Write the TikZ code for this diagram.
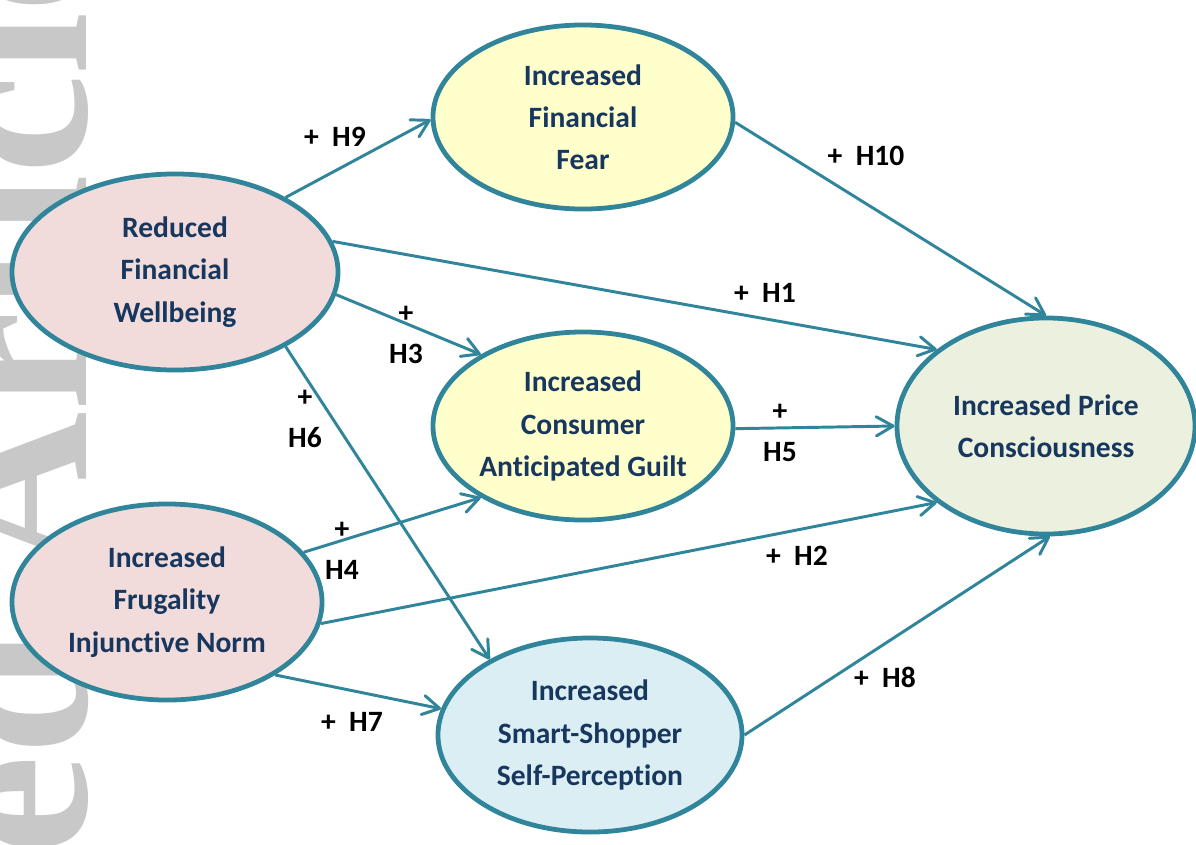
\documentclass[tikz,border=0pt]{standalone}
\usepackage{fontspec}
\setmainfont{Carlito}[Ligatures=NoCommon]
\newfontfamily\markfont{Liberation Serif}
\usetikzlibrary{arrows.meta,shapes.geometric}
\definecolor{TealLine}{RGB}{49,133,155}
\definecolor{NavyText}{RGB}{23,55,94}
\definecolor{PinkFill}{RGB}{242,220,219}
\definecolor{YellowFill}{RGB}{255,255,204}
\definecolor{SageFill}{RGB}{235,241,222}
\definecolor{IceFill}{RGB}{219,238,244}
\definecolor{MarkGrey}{RGB}{200,200,200}

\tikzset{
  construct/.style={ellipse, draw=TealLine, line width=3.4pt, inner sep=0pt,
    text=NavyText, font=\bfseries\fontsize{21}{30}\selectfont, align=center},
  link/.style={-{Straight Barb[length=4.2mm,width=4.8mm,round]}, TealLine,
    line width=2.1pt},
  hyp/.style={font=\bfseries\fontsize{21}{29}\selectfont, align=center}
}

\begin{document}
\begin{tikzpicture}[x=0.025cm,y=-0.025cm]
  \useasboundingbox (0,0) rectangle (1196,844);
  % grey mark along the left edge
  \begin{scope}
    \clip (0,0) rectangle (1196,844);
    \node[rotate=90, anchor=base west, inner sep=0pt, text=MarkGrey,
          font=\markfont\bfseries\fontsize{160}{160}\selectfont] (mark)
          at (86,1518) {Accepted Article};
  \end{scope}

  % constructs
  \node[construct, fill=PinkFill, minimum width=8.15cm, minimum height=4.9cm]
    (rfw) at (175,272) {Reduced\\Financial\\Wellbeing};
  \node[construct, fill=YellowFill, minimum width=7.5cm, minimum height=4.6cm]
    (iff) at (583,117) {Increased\\Financial\\Fear};
  \node[construct, fill=YellowFill, minimum width=7.5cm, minimum height=4.7cm]
    (icag) at (583,426) {Increased\\Consumer\\Anticipated Guilt};
  \node[construct, fill=SageFill, minimum width=7.45cm, minimum height=5.4cm]
    (ipc) at (1046,426) {Increased Price\\Consciousness};
  \node[construct, fill=PinkFill, minimum width=7.75cm, minimum height=4.9cm]
    (ifin) at (167,602) {Increased\\Frugality\\Injunctive Norm};
  \node[construct, fill=IceFill, minimum width=7.6cm, minimum height=4.85cm]
    (isssp) at (590,735) {Increased\\Smart-Shopper\\Self-Perception};

  % hypothesised paths
  \draw[link] (rfw.34) -- (iff.181);
  \draw[link] (iff.-2) -- (ipc.90);
  \draw[link] (rfw.11.5) -- (ipc.145.8);
  \draw[link] (rfw.-8.7) -- (icag.145);
  \draw[link] (rfw.-34.4) -- (isssp.143);
  \draw[link] (icag.-1) -- (ipc.180);
  \draw[link] (ifin.20) -- (icag.215.4);
  \draw[link] (ifin.-8.5) -- (ipc.215);
  \draw[link] (ifin.-34) -- (isssp.170);
  \draw[link] (isssp.0) -- (ipc.-88);

  % hypothesis labels
  \node[hyp] (h9) at (335,137) {+~~H9};
  \node[hyp] (h10) at (866,156) {+~~H10};
  \node[hyp] (h1) at (765,293) {+~~H1};
  \node[hyp] (h3) at (406,335) {+\\H3};
  \node[hyp] (h6) at (305,419) {+\\H6};
  \node[hyp] (h5) at (780,433) {+\\H5};
  \node[hyp] (h4) at (342,551) {+\\H4};
  \node[hyp] (h2) at (797,556) {+~~H2};
  \node[hyp] (h7) at (352,722) {+~~H7};
  \node[hyp] (h8) at (885,677) {+~~H8};
\end{tikzpicture}
\end{document}
